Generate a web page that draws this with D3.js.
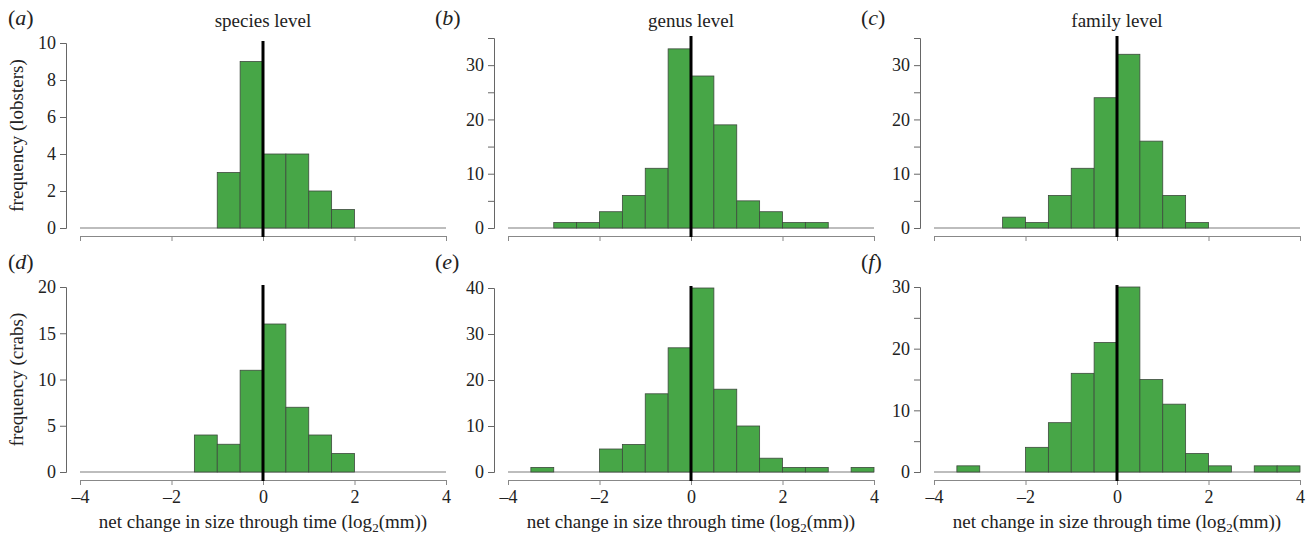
<!DOCTYPE html>
<html>
<head>
<meta charset="utf-8">
<script src="https://cdn.jsdelivr.net/npm/d3@7"></script>
<style>
  body { margin: 0; background: #fff; }
  text { font-family: 'Liberation Serif', Times, serif; }
</style>
</head>
<body>
<div id="chart"></div>
<script>
// --- --- --- Data --- --- ---
const binWidth = 0.5;
const xTicks = [-4, -2, 0, 2, 4];
const panelLetters = ["a", "b", "c", "d", "e", "f"];
const levelTitles = ["species level", "genus level", "family level"];
const rowLabels = ["frequency (lobsters)", "frequency (crabs)"];

// first bin start (log2 mm) and counts per 0.5 bin
const binStarts = [-1, -3, -2.5, -1.5, -3.5, -3.5];
const lobsterSpecies = [3, 9, 4, 4, 2, 1];
const lobsterGenus = [1, 1, 3, 6, 11, 33, 28, 19, 5, 3, 1, 1];
const lobsterFamily = [2, 1, 6, 11, 24, 32, 16, 6, 1];
const crabSpecies = [4, 3, 11, 16, 7, 4, 2];
const crabGenus = [1, 0, 0, 5, 6, 17, 27, 40, 18, 10, 3, 1, 1, 0, 1];
const crabFamily = [1, 0, 0, 4, 8, 16, 21, 30, 15, 11, 3, 1, 0, 1, 1];
const countSets = [lobsterSpecies, lobsterGenus, lobsterFamily, crabSpecies, crabGenus, crabFamily];

// y ticks (every tick) and which get labels
const yTickSets = [
  [0, 2, 4, 6, 8, 10],
  [0, 5, 10, 15, 20, 25, 30, 35],
  [0, 5, 10, 15, 20, 25, 30, 35],
  [0, 5, 10, 15, 20],
  [0, 10, 20, 30, 40],
  [0, 5, 10, 15, 20, 25, 30]
];
const yLabelEvery = [2, 10, 10, 5, 10, 10];

// --- --- --- Layout --- --- ---
const W = 1312, H = 535;
const colLeft = [80, 508, 934];
const colWidth = 366;
const rowBase = [228, 472];      // pixel of count 0
const topPix = [43, 38, 38, 287, 288, 287]; // pixel of max tick
const FILL = "#47a647";
const TXT = "#222";
const FONT = "'Liberation Serif', Times, serif";

const svg = d3.select("#chart").append("svg")
  .attr("width", W).attr("height", H)
  .attr("viewBox", [0, 0, W, H]);

function drawPanel(i) {
  const col = i % 3, row = Math.floor(i / 3);
  const left = colLeft[col];
  const y0 = rowBase[row];
  const yTicks = yTickSets[i];
  const yMax = yTicks[yTicks.length - 1];
  const counts = countSets[i];

  const x = d3.scaleLinear().domain([-4, 4]).range([left, left + colWidth]);
  const y = d3.scaleLinear().domain([0, yMax]).range([y0, topPix[i]]);

  const g = svg.append("g");

  // bins
  const bins = counts.map((c, k) => ({
    x0: binStarts[i] + k * binWidth,
    x1: binStarts[i] + (k + 1) * binWidth,
    n: c
  })).filter(d => d.n > 0);

  // baseline at zero count
  g.append("line")
    .attr("x1", x(-4)).attr("x2", x(4))
    .attr("y1", y(0)).attr("y2", y(0))
    .attr("stroke", "#bdbdbd").attr("stroke-width", 2);

  g.append("g").selectAll("rect")
    .data(bins)
    .join("rect")
    .attr("x", d => x(d.x0))
    .attr("y", d => y(d.n))
    .attr("width", d => x(d.x1) - x(d.x0))
    .attr("height", d => y(0) - y(d.n))
    .attr("fill", FILL)
    .attr("stroke", "#3d4a3d")
    .attr("stroke-width", 0.8);

  // y axis
  const yAxisX = left - 14;
  const ya = g.append("g")
    .attr("transform", `translate(${yAxisX},0)`)
    .call(d3.axisLeft(y).tickValues(yTicks).tickSizeOuter(0).tickSize(6).tickPadding(4)
      .tickFormat(d => d % yLabelEvery[i] === 0 ? d : ""));
  ya.attr("font-family", null);
  ya.select(".domain").attr("stroke", "#666");
  ya.selectAll(".tick line").attr("stroke", "#666");
  ya.selectAll("text").attr("font-size", 18).attr("fill", TXT)
    .style("font-family", FONT);

  // x axis
  const xAxisY = y0 + 8;
  const xa = g.append("g")
    .attr("transform", `translate(0,${xAxisY})`)
    .call(d3.axisBottom(x).tickValues(xTicks).tickSizeOuter(0).tickSize(5).tickPadding(5)
      .tickFormat(d => row === 1 ? (d < 0 ? "\u2013" + Math.abs(d) : d) : ""));
  xa.attr("font-family", null);
  xa.select(".domain").attr("stroke", "#888");
  xa.selectAll(".tick line").attr("stroke", "#888");
  xa.selectAll("text").attr("font-size", 18).attr("fill", TXT)
    .style("font-family", FONT);

  // zero line
  g.append("line")
    .attr("x1", x(0)).attr("x2", x(0))
    .attr("y1", topPix[i] - 2).attr("y2", xAxisY + 1)
    .attr("stroke", "#000").attr("stroke-width", 3);

  // panel letter
  const lab = g.append("text")
    .attr("x", left - 72 + (col === 0 ? 0 : -1))
    .attr("y", y0 - 203)
    .attr("font-size", 22).attr("fill", TXT)
    .style("font-family", FONT);
  lab.append("tspan").text("(");
  lab.append("tspan").attr("font-style", "italic").text(panelLetters[i]);
  lab.append("tspan").text(")");

  // level title (top row)
  if (row === 0) {
    g.append("text")
      .attr("x", x(0)).attr("y", 27)
      .attr("text-anchor", "middle")
      .attr("font-size", 19).attr("fill", TXT)
      .style("font-family", FONT)
      .text(levelTitles[col]);
  }

  // y label (first column)
  if (col === 0) {
    g.append("text")
      .attr("transform", `translate(23,${(y0 + topPix[i]) / 2}) rotate(-90)`)
      .attr("text-anchor", "middle")
      .attr("font-size", 19).attr("fill", TXT)
      .style("font-family", FONT)
      .text(rowLabels[row]);
  }

  // x label (bottom row)
  if (row === 1) {
    const t = g.append("text")
      .attr("x", x(0)).attr("y", 528)
      .attr("text-anchor", "middle")
      .attr("font-size", 19).attr("fill", TXT)
      .style("font-family", FONT);
    t.append("tspan").text("net change in size through time (log");
    t.append("tspan").attr("font-size", 13).attr("dy", 4).text("2");
    t.append("tspan").attr("dy", -4).text("(mm))");
  }
}

d3.range(6).forEach(drawPanel);
</script>
</body>
</html>
